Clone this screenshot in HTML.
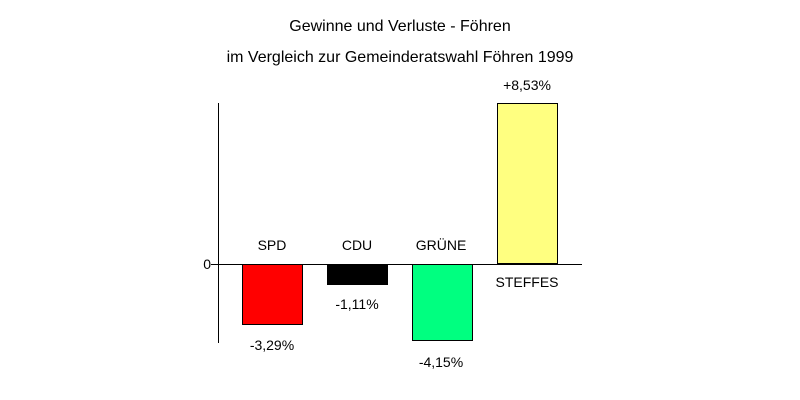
<!DOCTYPE html>
<html><head><meta charset="utf-8"><style>
body{margin:0;background:#fff;}
svg{display:block;font-family:"Liberation Sans",sans-serif;font-size:14px;}
</style></head><body>
<svg width="800" height="400" xmlns="http://www.w3.org/2000/svg">
<rect width="800" height="400" fill="#fff"/>
<text x="400" y="31" text-anchor="middle" font-size="16">Gewinne und Verluste - Föhren</text>
<text x="400" y="62" text-anchor="middle" font-size="16">im Vergleich zur Gemeinderatswahl Föhren 1999</text>
<line x1="218.5" y1="103" x2="218.5" y2="343" stroke="#000"/>
<line x1="211" y1="264.5" x2="582" y2="264.5" stroke="#000"/>
<text x="211" y="269" text-anchor="end">0</text>
<rect x="242.5" y="264.5" width="60" height="60" fill="#f00" stroke="#000"/>
<rect x="327.5" y="264.5" width="60" height="20" fill="#000" stroke="#000"/>
<rect x="412.5" y="264.5" width="60" height="76" fill="#00ff80" stroke="#000"/>
<rect x="497.5" y="103.5" width="60" height="160" fill="#ffff80" stroke="#000"/>
<text x="272" y="250" text-anchor="middle">SPD</text>
<text x="357" y="250" text-anchor="middle">CDU</text>
<text x="441" y="250" text-anchor="middle">GRÜNE</text>
<text x="527" y="287" text-anchor="middle">STEFFES</text>
<text x="272" y="350" text-anchor="middle">-3,29%</text>
<text x="357" y="309" text-anchor="middle">-1,11%</text>
<text x="441" y="367" text-anchor="middle">-4,15%</text>
<text x="527" y="90" text-anchor="middle">+8,53%</text>
</svg>
</body></html>
